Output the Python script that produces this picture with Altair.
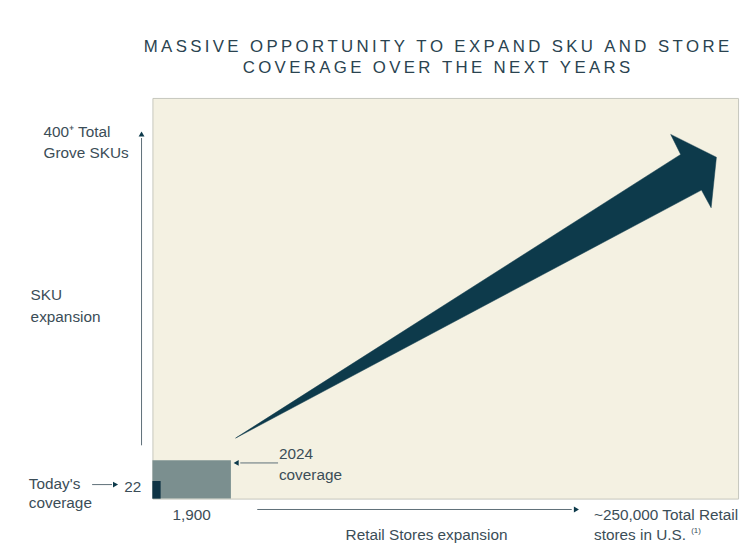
import altair as alt
import pandas as pd

# ---- schematic units: 0..100 across the plot area (stores -> x, SKUs -> y)
NAVY = "#0d3a4b"
TEXT = "#3b4d57"
LINE = "#5d6e77"

title_lines = ["MASSIVE OPPORTUNITY TO EXPAND SKU AND STORE", "COVERAGE OVER THE NEXT YEARS"]
title_x = [48.5, 48.5]
title_y = [112.6, 107.5]

# coverage boxes
box_names = ["2024 coverage", "Today's coverage"]
box_x2 = [13.4, 1.4]
box_y2 = [9.6, 4.4]
box_colors = ["#7b8f8f", "#0f3445"]

# growth arrow outline
arrow_x = [14.2, 90.2, 88.5, 96.3, 95.4, 93.75, 14.2]
arrow_y = [15.1, 85.9, 90.9, 85.2, 72.6, 77.0, 15.1]

# guide lines (axis arrows and pointers)
guide_x = [-1.86, 17.9, -10.3, 21.45]
guide_x2 = [-1.86, 71.6, -6.9, 15.0]
guide_y = [13.3, -2.72, 3.5, 8.9]
guide_y2 = [90.0, -2.72, 3.5, 8.9]

head_x = [-1.86, 72.4, -6.3, 14.3]
head_y = [91.0, -2.72, 3.5, 8.9]
head_shape = ["triangle-up", "triangle-right", "triangle-right", "triangle-left"]

# labels
left_text = ["400\u207a Total", "Grove SKUs", "SKU", "expansion", "Today's", "coverage",
             "22", "2024", "coverage", "~250,000 Total Retail", "stores in U.S."]
left_x = [-18.6, -18.6, -20.8, -20.8, -21.1, -21.1, -4.8, 21.6, 21.6, 75.4, 75.4]
left_y = [91.4, 86.2, 50.9, 45.2, 3.7, -1.0, 3.0, 11.1, 5.9, -4.2, -9.1]

note_text = ["(1)"]
note_x = [92.0]
note_y = [-8.2]

center_text = ["1,900", "Retail Stores expansion"]
center_x = [6.7, 46.8]
center_y = [-4.2, -9.1]

xs = alt.Scale(domain=[0, 100], nice=False, zero=False)
ys = alt.Scale(domain=[0, 100], nice=False, zero=False)


def X(f):
    return alt.X(f, type="quantitative", scale=xs, axis=None)


def Y(f):
    return alt.Y(f, type="quantitative", scale=ys, axis=None)


def spaced(s):
    return "\u2009".join(s)


boxes = pd.DataFrame({"name": box_names, "x": [0, 0], "x2": box_x2, "y": [0, 0],
                      "y2": box_y2, "c": box_colors})
arrow = pd.DataFrame({"x": arrow_x, "y": arrow_y, "o": list(range(len(arrow_x)))})
guides = pd.DataFrame({"x": guide_x, "x2": guide_x2, "y": guide_y, "y2": guide_y2})
heads = pd.DataFrame({"x": head_x, "y": head_y, "s": head_shape})
lefts = pd.DataFrame({"t": left_text, "x": left_x, "y": left_y})
notes = pd.DataFrame({"t": note_text, "x": note_x, "y": note_y})
centers = pd.DataFrame({"t": center_text, "x": center_x, "y": center_y})
titles = pd.DataFrame({"t": [spaced(s) for s in title_lines], "x": title_x, "y": title_y})

box_layer = alt.Chart(boxes).mark_rect().encode(
    x=X("x"), x2="x2", y=Y("y"), y2="y2", color=alt.Color("c:N", scale=None))

arrow_layer = alt.Chart(arrow).mark_line(fill=NAVY, stroke=NAVY, strokeWidth=0.5).encode(
    x=X("x"), y=Y("y"), order="o:Q")

guide_layer = alt.Chart(guides).mark_rule(color=LINE, strokeWidth=1).encode(
    x=X("x"), x2="x2", y=Y("y"), y2="y2")

head_layer = alt.Chart(heads).mark_point(filled=True, opacity=1, color=NAVY, size=35).encode(
    x=X("x"), y=Y("y"), shape=alt.Shape("s:N", scale=None))

left_layer = alt.Chart(lefts).mark_text(
    align="left", baseline="middle", font="Liberation Sans", fontSize=15.5, color=TEXT).encode(
    x=X("x"), y=Y("y"), text="t:N")

note_layer = alt.Chart(notes).mark_text(
    align="left", baseline="middle", font="Liberation Sans", fontSize=8, color=TEXT).encode(
    x=X("x"), y=Y("y"), text="t:N")

center_layer = alt.Chart(centers).mark_text(
    align="center", baseline="middle", font="Liberation Sans", fontSize=15.5, color=TEXT).encode(
    x=X("x"), y=Y("y"), text="t:N")

title_layer = alt.Chart(titles).mark_text(
    align="center", baseline="middle", font="Liberation Sans", fontSize=17, color="#2a4350").encode(
    x=X("x"), y=Y("y"), text="t:N")

chart = alt.layer(box_layer, arrow_layer, guide_layer, head_layer,
                  left_layer, note_layer, center_layer, title_layer).properties(
    width=592, height=405, background="white",
    padding={"left": 146, "top": 88, "right": 6, "bottom": 47},
    autosize=alt.AutoSizeParams(type="none"),
).configure_view(fill="#f4f1e2", stroke="#c5c6bd", strokeWidth=1)

chart.save("out.html", embed_options={"renderer": "svg", "actions": False})
